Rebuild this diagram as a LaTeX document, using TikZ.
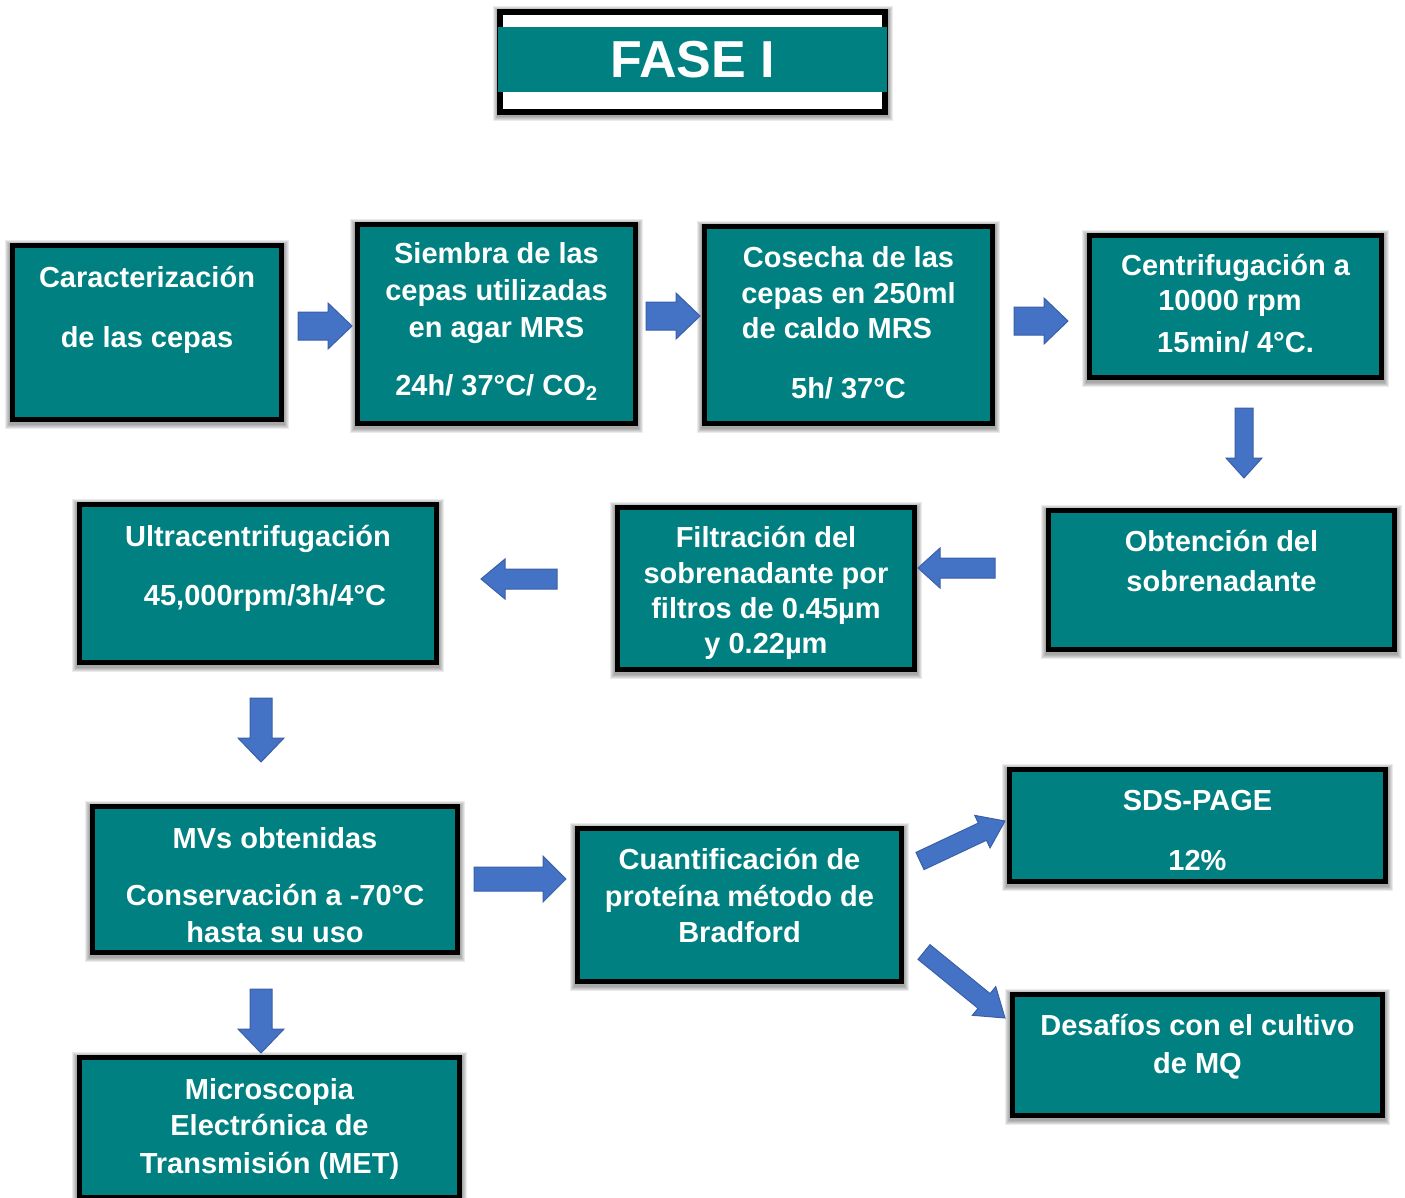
\documentclass[tikz,border=0pt]{standalone}
\usepackage{fontspec}
\setmainfont{Liberation Sans}
\usetikzlibrary{calc}
\definecolor{teal0}{HTML}{008080}
\definecolor{arrowblue}{HTML}{4472C4}
\definecolor{arrowedge}{HTML}{3A5FA8}
\newcommand\bt[4]{\parbox[c][#2pt][t]{#1pt}{\centering\vspace*{#3pt}\rule{0pt}{25pt}#4\par}}
\tikzset{
  shadowring/.style={preaction={draw=black, draw opacity=0.08, line width=#1, fill=none,
      transform canvas={yshift=-1.5pt}}},
  boxshadow/.style={shadowring=15pt, shadowring=13pt, shadowring=11pt, shadowring=9pt, shadowring=7pt},
  box/.style={draw=black, line width=5pt, fill=teal0, inner sep=0pt, outer sep=0pt,
    text=white, font=\bfseries\fontsize{29}{36}\selectfont, boxshadow},
  blockarrow/.style n args={3}{draw=arrowedge, line width=1pt, fill=arrowblue, line join=miter,
    to path={let \p1=($(\tikztotarget)!#3!(\tikztostart)$) in
      ($(\tikztostart)!#1!90:(\tikztotarget)$) -- ($(\p1)!#1!90:(\tikztotarget)$)
      -- ($(\p1)!#2!90:(\tikztotarget)$) -- (\tikztotarget)
      -- ($(\p1)!#2!-90:(\tikztotarget)$) -- ($(\p1)!#1!-90:(\tikztotarget)$)
      -- ($(\tikztostart)!#1!-90:(\tikztotarget)$) -- cycle}}
}
\begin{document}
\begin{tikzpicture}[x=1pt,y=-1pt]
\useasboundingbox (0,0) rectangle (1405,1197);
\fill[white] (0,0) rectangle (1405,1197);
\clip (0,0) rectangle (1405,1197);

% title
\draw[line width=6pt, fill=white, boxshadow] (500,12) rectangle (885,112);
\node[fill=teal0, minimum width=389pt, minimum height=65pt, inner sep=0pt, text=white,
  font=\bfseries\fontsize{52}{60}\selectfont] (title) at (692.5,59.5) {FASE I};

% boxes
\node[box] (c1) at (147,332.5) {\bt{269}{174}{16.5}{Caracterización\\[24pt]de las cepas}};
\node[box] (c2) at (496.5,324) {\bt{278}{199}{13.5}{Siembra de las\\[1pt]cepas utilizadas\\[1pt]en agar MRS\\[22pt]24h/ 37°C/ CO\textsubscript{2}}};
\node[box] (c3) at (848.5,325) {\bt{288}{197}{15.5}{Cosecha de las\\cepas en 250ml\\[-1pt]de caldo MRS\hspace*{23pt}\null\\[24pt]5h/ 37°C}};
\node[box] (c4) at (1235.5,306.5) {\bt{292}{142}{14.5}{Centrifugación a\\[-1pt]10000 rpm\hspace*{11pt}\null\\[6pt]15min/ 4°C.}};
\node[box] (c5) at (1221.5,580) {\bt{346}{139}{15.5}{Obtención del\\[4pt]sobrenadante}};
\node[box] (c6) at (766,588.5) {\bt{297}{162}{14.5}{Filtración del\\sobrenadante por\\[-1pt]filtros de 0.45µm\\[-1pt]y 0.22µm}};
\node[box] (c7) at (258,583.5) {\bt{357}{158}{16.5}{Ultracentrifugación\\[23pt]\hspace*{14pt}45,000rpm/3h/4°C}};
\node[box] (c8) at (275,879.5) {\bt{365}{146}{16.5}{MVs obtenidas\\[21pt]Conservación a -70°C\\[1pt]hasta su uso}};
\node[box] (c9) at (739.5,905) {\bt{324}{153}{15.5}{Cuantificación de\\[1pt]proteína método de\\Bradford}};
\node[box] (c10) at (1197.5,825.5) {\bt{376}{112}{15.5}{SDS-PAGE\\[24pt]12\%}};
\node[box] (c11) at (1197.5,1055) {\bt{370}{121}{15.5}{Desafíos con el cultivo\\[2pt]de MQ}};
\node[box] (c12) at (269.5,1127.5) {\bt{380}{140}{16.5}{Microscopia\\Electrónica de\\[2pt]Transmisión (MET)}};

% arrow end points
\coordinate (a1s) at (298,326);   \coordinate (a1e) at (352,326);
\coordinate (a2s) at (646,316);   \coordinate (a2e) at (700,316);
\coordinate (a3s) at (1014,321);  \coordinate (a3e) at (1068,321);
\coordinate (a4s) at (1244,408);  \coordinate (a4e) at (1244,478);
\coordinate (a5s) at (995,568);   \coordinate (a5e) at (918,568);
\coordinate (a6s) at (557,579);   \coordinate (a6e) at (481,579);
\coordinate (a7s) at (261,698);   \coordinate (a7e) at (261,762);
\coordinate (a8s) at (474,879);   \coordinate (a8e) at (566,879);
\coordinate (a9s) at (920,861);   \coordinate (a9e) at (1005,821);
\coordinate (a10s) at (924,952);  \coordinate (a10e) at (1005,1018);
\coordinate (a11s) at (261,989);  \coordinate (a11e) at (261,1053);

\draw[blockarrow={14pt}{23pt}{24pt}] (a1s) to (a1e);
\draw[blockarrow={14pt}{23pt}{24pt}] (a2s) to (a2e);
\draw[blockarrow={14pt}{23pt}{24pt}] (a3s) to (a3e);
\draw[blockarrow={9pt}{18pt}{20pt}] (a4s) to (a4e);
\draw[blockarrow={10pt}{20pt}{22pt}] (a5s) to (a5e);
\draw[blockarrow={10pt}{20pt}{24pt}] (a6s) to (a6e);
\draw[blockarrow={11pt}{23pt}{24pt}] (a7s) to (a7e);
\draw[blockarrow={12pt}{23pt}{23pt}] (a8s) to (a8e);
\draw[blockarrow={9.5pt}{18pt}{25pt}] (a9s) to (a9e);
\draw[blockarrow={9.5pt}{18.5pt}{27pt}] (a10s) to (a10e);
\draw[blockarrow={11pt}{23pt}{24pt}] (a11s) to (a11e);
\end{tikzpicture}
\end{document}
